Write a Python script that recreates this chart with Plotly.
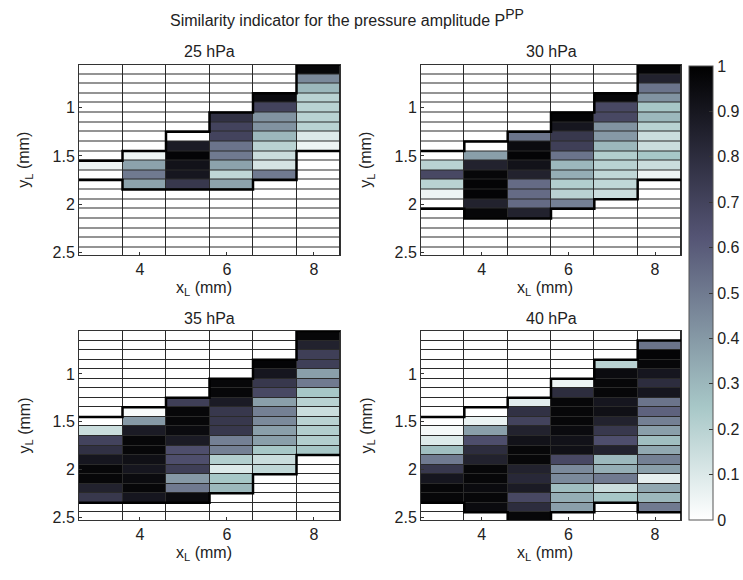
import plotly.graph_objects as go

# ---------------- data ----------------
x_cols = [3.1, 4.1, 5.1, 6.1, 7.1, 8.1]
y_rows = [0.6, 0.7, 0.8, 0.9, 1.0, 1.1, 1.2, 1.3, 1.4, 1.5,
          1.6, 1.7, 1.8, 1.9, 2.0, 2.1, 2.2, 2.3, 2.4, 2.5]
x_ticks = [4, 6, 8]
y_ticks = [1, 1.5, 2, 2.5]
cbar_ticks = [0, 0.1, 0.2, 0.3, 0.4, 0.5, 0.6, 0.7, 0.8, 0.9, 1]
panel_titles = ["25 hPa", "30 hPa", "35 hPa", "40 hPa"]

# first row index of the measured region in each column
p25_start = [10, 9, 7, 5, 3, 0]
p25_cols = [
    [0.05, 0.0],
    [0.05, 0.37, 0.5, 0.37],
    [0.0, 0.88, 0.98, 0.92, 0.9, 0.75],
    [0.78, 0.7, 0.7, 0.52, 0.5, 0.37, 0.18, 0.37],
    [0.95, 0.7, 0.42, 0.42, 0.3, 0.2, 0.15, 0.12, 0.5],
    [0.97, 0.45, 0.3, 0.2, 0.2, 0.2, 0.2, 0.1, 0.05],
]

p30_start = [9, 8, 7, 5, 3, 0]
p30_cols = [
    [0.0, 0.2, 0.68, 0.2, 0.05, 0.0],
    [0.0, 0.38, 0.85, 0.97, 0.98, 0.98, 0.85, 0.97],
    [0.52, 0.95, 0.98, 0.92, 0.85, 0.55, 0.55, 0.55, 0.85],
    [0.98, 0.9, 0.75, 0.72, 0.52, 0.3, 0.33, 0.22, 0.2, 0.48],
    [0.97, 0.68, 0.68, 0.42, 0.4, 0.3, 0.22, 0.2, 0.18, 0.18, 0.15],
    [0.98, 0.85, 0.52, 0.42, 0.25, 0.3, 0.2, 0.15, 0.15, 0.25, 0.15, 0.05],
]

p35_start = [9, 8, 7, 5, 3, 0]
p35_cols = [
    [0.0, 0.15, 0.7, 0.78, 0.9, 0.97, 0.97, 0.85, 0.75],
    [0.02, 0.4, 0.88, 0.97, 0.97, 0.93, 0.9, 0.95, 0.97, 0.9],
    [0.72, 0.97, 0.97, 0.95, 0.88, 0.65, 0.65, 0.72, 0.4, 0.5, 0.95],
    [0.97, 0.97, 0.88, 0.75, 0.75, 0.75, 0.48, 0.48, 0.22, 0.1, 0.25, 0.3],
    [0.98, 0.9, 0.75, 0.68, 0.38, 0.48, 0.45, 0.38, 0.38, 0.25, 0.15, 0.18],
    [0.97, 0.85, 0.72, 0.72, 0.38, 0.5, 0.25, 0.2, 0.15, 0.2, 0.22, 0.22, 0.25],
]

p40_start = [9, 8, 7, 5, 3, 1]
p40_cols = [
    [0.0, 0.03, 0.1, 0.28, 0.5, 0.75, 0.9, 0.97, 0.97],
    [0.0, 0.06, 0.38, 0.65, 0.8, 0.85, 0.97, 0.97, 0.95, 0.97, 0.95],
    [0.08, 0.78, 0.7, 0.85, 0.92, 0.97, 0.97, 0.85, 0.82, 0.88, 0.68, 0.8, 0.97],
    [0.05, 0.8, 0.97, 0.97, 0.97, 0.95, 0.92, 0.93, 0.68, 0.45, 0.45, 0.28, 0.33, 0.38],
    [0.2, 0.95, 0.97, 0.97, 0.9, 0.93, 0.85, 0.75, 0.65, 0.85, 0.3, 0.33, 0.5, 0.15, 0.25],
    [0.52, 0.98, 0.97, 0.9, 0.8, 0.9, 0.52, 0.58, 0.48, 0.38, 0.28, 0.35, 0.48, 0.38, 0.07, 0.35, 0.3, 0.5],
]

# flipped MATLAB "bone" colormap (0 white -> 1 black)
colorscale = [[0.0, "rgb(255,255,255)"], [0.25, "rgb(167,199,199)"],
              [0.625, "rgb(84,84,116)"], [1.0, "rgb(0,0,0)"]]

FONT = "Liberation Sans, Arial, sans-serif"
W, H = 743, 580

# panel pixel boxes: (left, right, top, bottom)
boxes = [(79, 340, 64.5, 255), (421, 681, 64.5, 255),
         (79, 340, 331, 520), (421, 681, 331, 520)]


def build_z(start, cols):
    z = [[0.0] * len(x_cols) for _ in y_rows]
    for c, (s, vals) in enumerate(zip(start, cols)):
        for i, v in enumerate(vals):
            z[s + i][c] = v
    return z


def outline(start, cols):
    dx = (x_cols[1] - x_cols[0]) / 2
    dy = (y_rows[1] - y_rows[0]) / 2
    xs, ys = [], []
    for c, (s, vals) in enumerate(zip(start, cols)):
        xs += [x_cols[c] - dx, x_cols[c] + dx]
        ys += [y_rows[s] - dy] * 2
    xs.append(None); ys.append(None)
    for c, (s, vals) in enumerate(zip(start, cols)):
        xs += [x_cols[c] - dx, x_cols[c] + dx]
        ys += [y_rows[s + len(vals) - 1] + dy] * 2
    return xs, ys


def ann(text, px, py, size=16, angle=0):
    return dict(text=text, x=px / W, y=(H - py) / H, xref="paper", yref="paper",
                xanchor="center", yanchor="middle", showarrow=False, textangle=angle,
                font=dict(family=FONT, size=size, color="#222"))


panels = [(p25_start, p25_cols), (p30_start, p30_cols),
          (p35_start, p35_cols), (p40_start, p40_cols)]

fig = go.Figure()
annotations = []
for k, ((start, cols), box) in enumerate(zip(panels, boxes)):
    sfx = "" if k == 0 else str(k + 1)
    xa, ya = "x" + sfx, "y" + sfx
    l, r, t, b = box
    fig.add_trace(go.Heatmap(
        x=x_cols, y=y_rows, z=build_z(start, cols),
        colorscale=colorscale, zmin=0, zmax=1, xgap=1, ygap=1,
        showscale=(k == 0), xaxis=xa, yaxis=ya, hoverinfo="skip",
        colorbar=dict(x=689 / W, xanchor="left", y=(H - 520) / H, yanchor="bottom",
                      len=(520 - 66) / H, lenmode="fraction", thickness=24,
                      thicknessmode="pixels", xpad=0, ypad=0,
                      outlinecolor="#555", outlinewidth=1,
                      tickvals=cbar_ticks, ticktext=[f"{v:g}" for v in cbar_ticks],
                      ticks="inside", ticklen=4, tickcolor="#333",
                      tickfont=dict(family=FONT, size=16, color="#222")),
    ))
    ox, oy = outline(start, cols)
    fig.add_trace(go.Scatter(x=ox, y=oy, mode="lines", xaxis=xa, yaxis=ya,
                             line=dict(color="black", width=2.5),
                             showlegend=False, hoverinfo="skip"))
    axis_common = dict(showline=True, mirror=True, linecolor="#333", linewidth=1,
                       ticks="inside", ticklen=3, tickcolor="#333", showgrid=False,
                       zeroline=False, tickfont=dict(family=FONT, size=16, color="#222"))
    fig.layout["xaxis" + sfx] = dict(domain=[l / W, r / W], anchor=ya,
                                    range=[2.6, 8.6], tickvals=x_ticks, **axis_common)
    fig.layout["yaxis" + sfx] = dict(domain=[(H - b) / H, (H - t) / H], anchor=xa,
                                    range=[2.53, 0.55], tickvals=y_ticks,
                                    ticktext=[f"{v:g}" for v in y_ticks], **axis_common)
    cx = (l + r) / 2
    annotations.append(ann(panel_titles[k], cx, t - 13))
    annotations.append(ann("x<sub>L</sub> (mm)", cx - 6, b + 33))
    annotations.append(ann("y<sub>L</sub> (mm)", l - 54, (t + b) / 2, angle=-90))

annotations.append(ann("Similarity indicator for the pressure amplitude "
                       "P<sup><span style='font-size:14px'>PP</span></sup>", 347, 18))

fig.update_layout(width=W, height=H, margin=dict(l=0, r=0, t=0, b=0, autoexpand=False),
                  paper_bgcolor="white", plot_bgcolor="#2a2a2a",
                  annotations=annotations, showlegend=False)

fig.write_html("out.html", config={"displayModeBar": False},
               post_script="document.body.style.margin='0px';")
